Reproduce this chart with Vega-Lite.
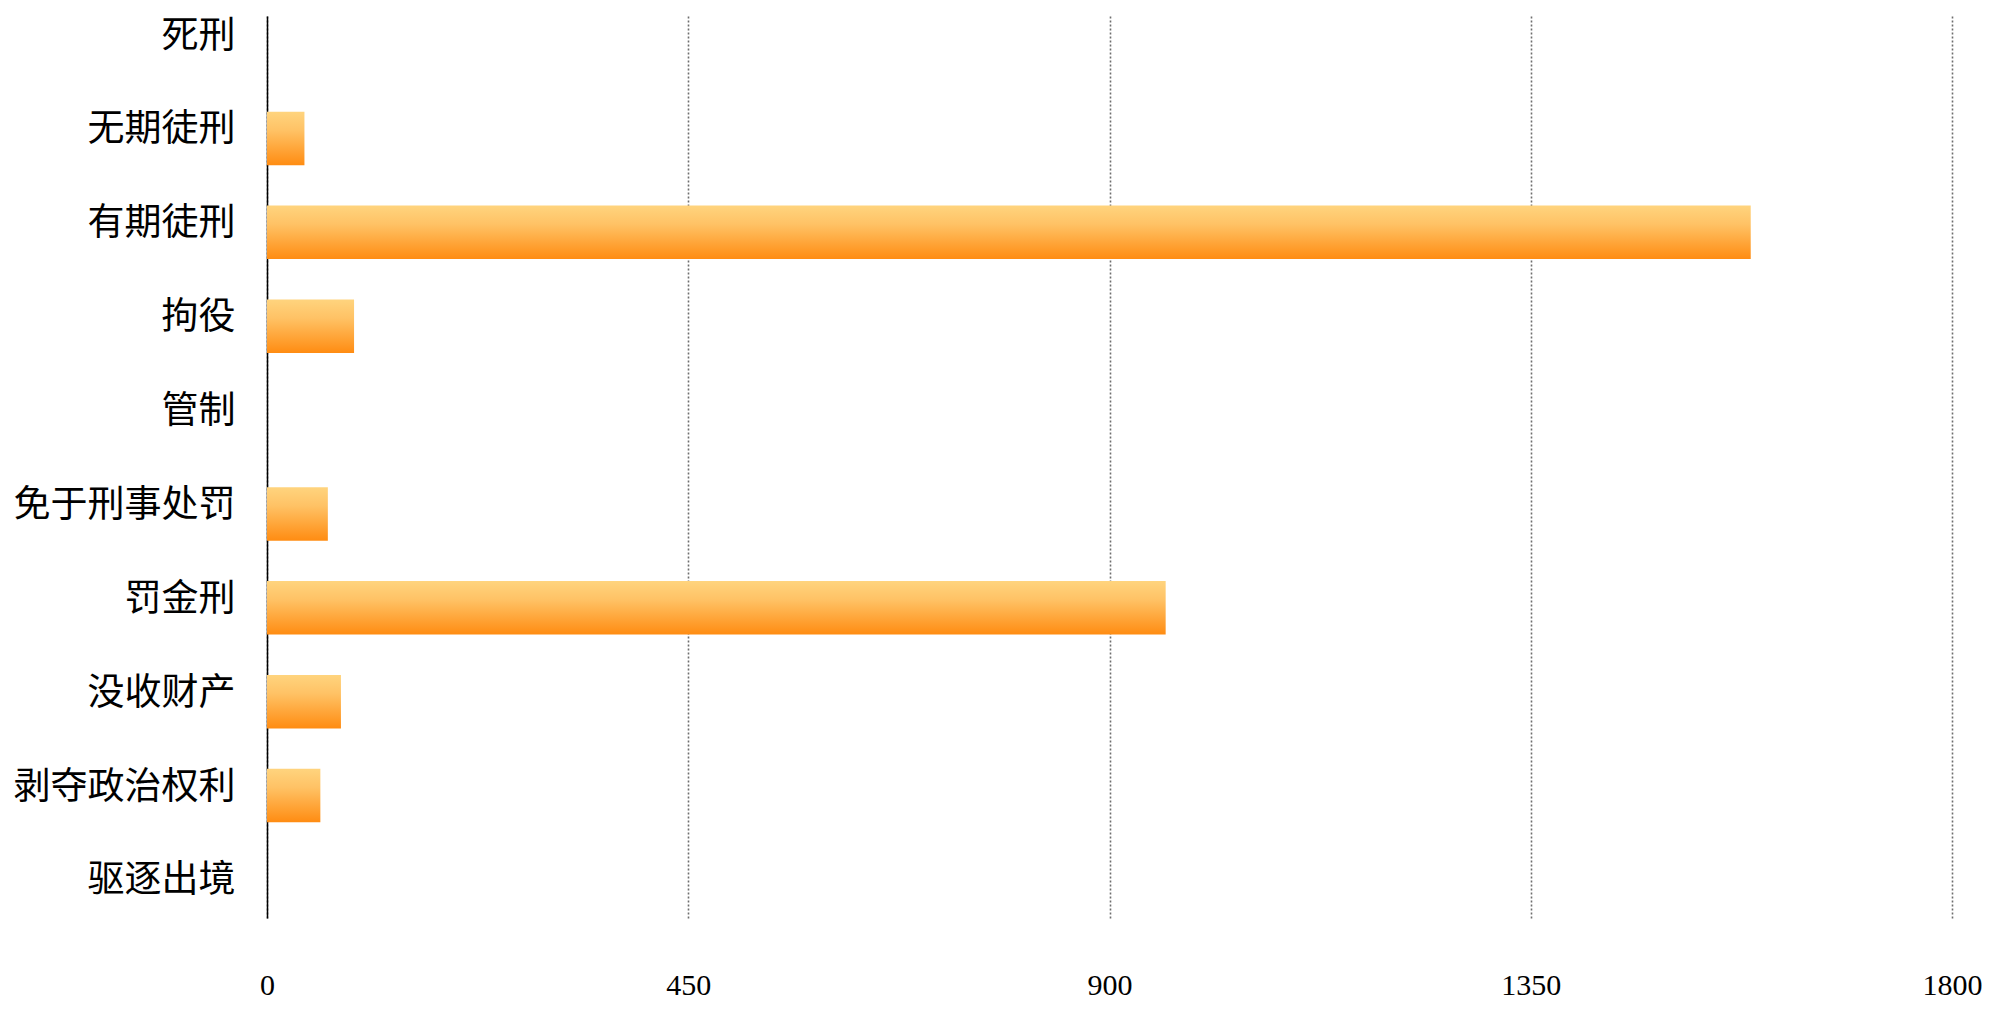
{
  "$schema": "https://vega.github.io/schema/vega-lite/v6.json",
  "autosize": "none",
  "width": 1685,
  "height": 902,
  "padding": {"left": 267, "top": 16, "right": 43, "bottom": 91},
  "background": "white",
  "data": {
    "values": [
      {"category": "死刑", "count": 0},
      {"category": "无期徒刑", "count": 40},
      {"category": "有期徒刑", "count": 1585},
      {"category": "拘役", "count": 93},
      {"category": "管制", "count": 0},
      {"category": "免于刑事处罚", "count": 65},
      {"category": "罚金刑", "count": 960},
      {"category": "没收财产", "count": 79},
      {"category": "剥夺政治权利", "count": 57},
      {"category": "驱逐出境", "count": 0}
    ]
  },
  "config": {
    "view": {"stroke": null}
  },
  "mark": {
    "type": "bar",
    "color": {
      "gradient": "linear",
      "x1": 0, "y1": 0, "x2": 0, "y2": 1,
      "stops": [
        {"offset": 0, "color": "#FFD47E"},
        {"offset": 0.35, "color": "#FFC265"},
        {"offset": 1, "color": "#FF8C12"}
      ]
    }
  },
  "encoding": {
    "y": {
      "field": "category",
      "type": "nominal",
      "sort": null,
      "scale": {"paddingInner": 0.43, "paddingOuter": 0.02},
      "axis": {
        "title": null,
        "ticks": false,
        "domain": true,
        "domainColor": "#000000",
        "domainWidth": 1.5,
        "labelFont": "Noto Sans CJK SC",
        "labelFontSize": 37,
        "labelColor": "#000000",
        "labelPadding": 32,
        "labelLimit": 0,
        "labelOffset": -8,
        "grid": false
      }
    },
    "x": {
      "field": "count",
      "type": "quantitative",
      "scale": {"domain": [0, 1800], "nice": false},
      "axis": {
        "title": null,
        "values": [0, 450, 900, 1350, 1800],
        "format": "d",
        "domain": false,
        "ticks": false,
        "grid": true,
        "gridColor": "#6e6e6e",
        "gridDash": [2, 2],
        "gridWidth": 1.6,
        "labelFont": "Liberation Serif",
        "labelFontSize": 30,
        "labelColor": "#000000",
        "labelPadding": 52,
        "labelFlush": false
      }
    }
  }
}
